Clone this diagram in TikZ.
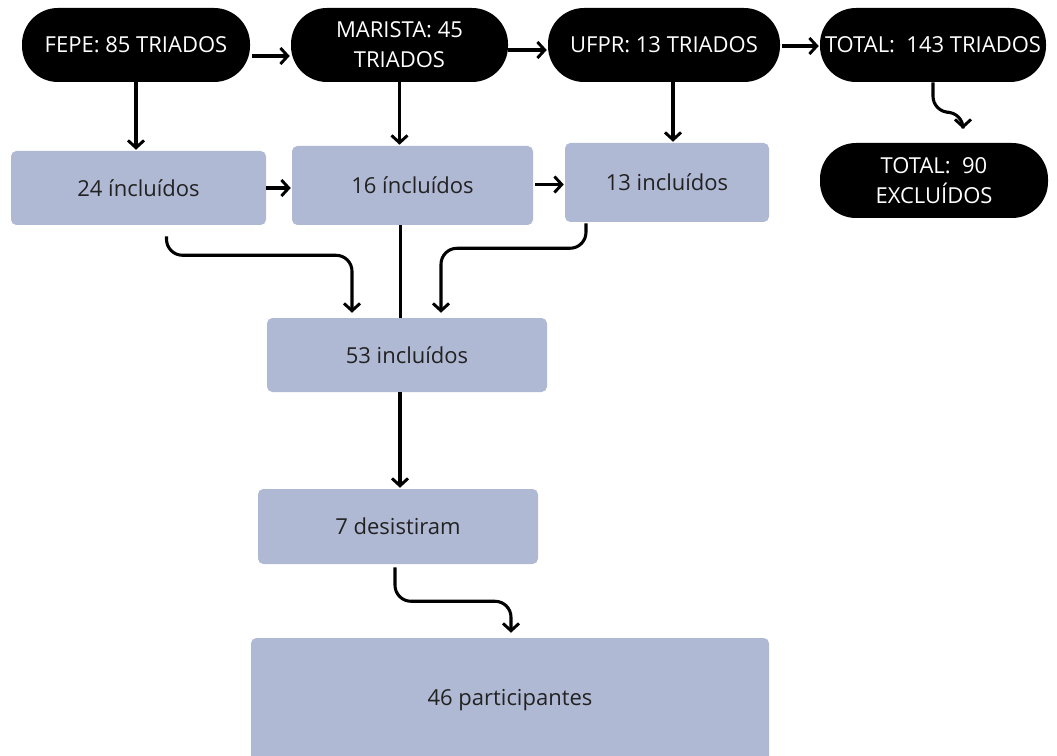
\documentclass[tikz,border=0pt]{standalone}
\usepackage{fontspec}
\setmainfont{Open Sans}
\usetikzlibrary{arrows.meta,calc}
\definecolor{boxfill}{HTML}{B0B9D3}
\definecolor{boxtext}{HTML}{222222}
\begin{document}
\begin{tikzpicture}[x=0.75pt,y=-0.75pt,
  pill/.style={fill=black,text=white,rounded corners=27pt,align=center,
    inner sep=0pt,font=\fontsize{16.5}{22.5}\selectfont},
  bluebox/.style={fill=boxfill,text=boxtext,rounded corners=4pt,align=center,
    inner sep=0pt,font=\fontsize{16.5}{22.5}\selectfont},
  conn/.style={line width=2.3pt,draw=black},
  arr/.style={conn,-{Straight Barb[length=5.5pt,width=12pt,line width=2.2pt]}},
  curvy/.style={arr,rounded corners=12pt}]
\useasboundingbox (0,0) rectangle (1057,756);
% top pills
\node[pill,minimum width=228*0.75pt,minimum height=74*0.75pt] (fepe) at (136,45) {FEPE: 85 TRIADOS};
\node[pill,minimum width=217*0.75pt,minimum height=74*0.75pt] (mar) at (399.5,45) {MARISTA: 45\\TRIADOS};
\node[pill,minimum width=232*0.75pt,minimum height=74*0.75pt] (ufpr) at (664,45) {UFPR: 13 TRIADOS};
\node[pill,minimum width=226*0.75pt,minimum height=74*0.75pt] (tot) at (933,45) {TOTAL:\ \ 143 TRIADOS};
\node[pill,minimum width=228*0.75pt,minimum height=75*0.75pt] (exc) at (934,180.5) {TOTAL:\ \ 90\\EXCLUÍDOS};
% blue boxes
\node[bluebox,minimum width=255*0.75pt,minimum height=74*0.75pt] (i24) at (138.5,188) {24 íncluídos};
\node[bluebox,minimum width=241*0.75pt,minimum height=79*0.75pt] (i16) at (412.5,185.5) {16 íncluídos};
\node[bluebox,minimum width=204*0.75pt,minimum height=79*0.75pt] (i13) at (667,182.5) {13 incluídos};
\node[bluebox,minimum width=280*0.75pt,minimum height=74*0.75pt] (i53) at (407,355) {53 incluídos};
\node[bluebox,minimum width=280*0.75pt,minimum height=75*0.75pt] (des) at (398,526.5) {7 desistiram};
\node[bluebox,minimum width=518*0.75pt,minimum height=124*0.75pt] (par) at (510,700) {46 participantes};
% horizontal arrows top row
\draw[arr] ($(fepe.east)+(2,11)$) -- ($(mar.west)+(-1,11)$);
\draw[arr] ($(mar.east)+(0,5)$) -- ($(ufpr.west)+(-1,5)$);
\draw[arr] ($(ufpr.east)+(2,1)$) -- ($(tot.west)+(-1,1)$);
% down arrows
\draw[arr] (fepe.south) -- ($(fepe.south |- i24.north)+(0,-1)$);
\draw[arr] (mar.south) -- ($(mar.south |- i16.north)+(0,-1)$);
\coordinate (uf) at ($(ufpr.south)+(9,0)$);
\draw[arr] (uf) -- ($(uf |- i13.north)+(0,-1)$);
% total -> excluidos
\coordinate (ex) at ($(exc.north)+(29,-14)$);
\draw[curvy] (tot.south) -- ++(0,30) -| (ex);
% middle row arrows
\draw[arr] (i24.east) -- ($(i24.east -| i16.west)+(-1,0)$);
\draw[arr] ($(i16.east)+(2,-1)$) -- ($(i16.east -| i13.west)+(-1,-1)$);
% to 53
\coordinate (a24) at ($(i24.south)+(28,11)$);
\coordinate (b24) at ($(i53.north)+(-55,-5)$);
\draw[curvy] (a24) -- ++(0,19) -| (b24);
\coordinate (a16) at ($(i16.south)+(-12,0)$);
\draw[conn] (a16) -- (a16 |- i53.north);
\coordinate (a13) at ($(i13.south)+(-81,1)$);
\coordinate (b13) at ($(i53.north)+(34,-5)$);
\draw[curvy] (a13) -- ++(0,25) -| (b13);
% 53 -> 7
\coordinate (a53) at ($(i53.south)+(-7,0)$);
\draw[arr] (a53) -- ($(a53 |- des.north)+(0,-1)$);
% 7 -> 46
\coordinate (ad) at ($(des.south)+(-3,3)$);
\coordinate (bd) at ($(par.north)+(1,-5)$);
\draw[curvy] (ad) -- ++(0,34) -| (bd);
\end{tikzpicture}
\end{document}
